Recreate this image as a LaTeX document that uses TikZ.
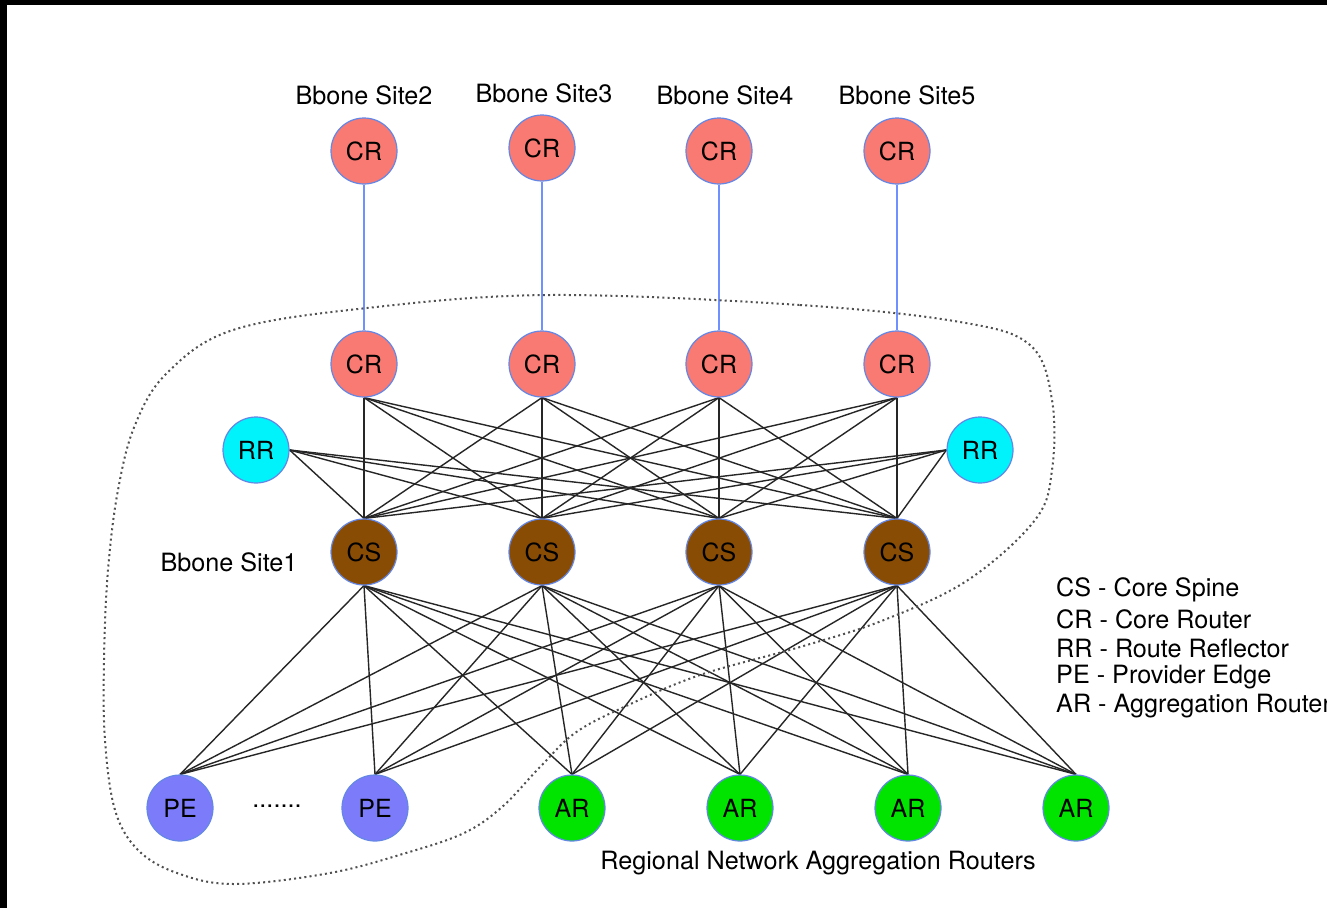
\documentclass[tikz,border=0pt]{standalone}
\usepackage{fontspec}
\setmainfont{TeX Gyre Heros}
\usetikzlibrary{backgrounds}
\definecolor{crcol}{RGB}{248,122,114}
\definecolor{rrcol}{RGB}{0,242,250}
\definecolor{cscol}{RGB}{137,76,4}
\definecolor{pecol}{RGB}{124,124,250}
\definecolor{arcol}{RGB}{0,228,0}
\definecolor{rim}{RGB}{100,135,230}
\definecolor{linkblue}{RGB}{110,145,255}
\definecolor{dotcol}{RGB}{80,80,80}
\tikzset{
  dev/.style={circle, draw=rim, line width=1.2pt, minimum size=66pt, inner sep=0pt,
    font=\fontsize{25}{28}\selectfont, text=black},
  crnode/.style={dev, fill=crcol},
  rrnode/.style={dev, fill=rrcol},
  csnode/.style={dev, fill=cscol},
  penode/.style={dev, fill=pecol},
  arnode/.style={dev, fill=arcol},
  mesh/.style={draw=black!85, line width=1.4pt},
  uplink/.style={draw=linkblue, line width=1.8pt},
  lbl/.style={font=\fontsize{25.2}{29}\selectfont, inner sep=0pt},
  boundary/.style={draw=dotcol, line width=2pt, dash pattern=on 2pt off 3.2pt}
}
\begin{document}
\begin{tikzpicture}[x=1pt,y=-1pt]
\useasboundingbox (0,0) rectangle (1327,908);
\begin{pgfonlayer}{background}
  \fill[black] (0,0) rectangle (1327,908);
  \fill[white] (7,5) rectangle (1327,908);
\end{pgfonlayer}

% top core routers
\node[crnode] (t1) at (364,151) {CR};
\node[crnode] (t2) at (542,148) {CR};
\node[crnode] (t3) at (719,151) {CR};
\node[crnode] (t4) at (897,151) {CR};
% site labels
\node[lbl] (l2) at (364,95) {Bbone Site2};
\node[lbl] (l3) at (544,93) {Bbone Site3};
\node[lbl] (l4) at (725,95) {Bbone Site4};
\node[lbl] (l5) at (907,95) {Bbone Site5};
% site1 core routers
\node[crnode] (c1) at (364,364) {CR};
\node[crnode] (c2) at (542,364) {CR};
\node[crnode] (c3) at (719,364) {CR};
\node[crnode] (c4) at (897,364) {CR};
% route reflectors
\node[rrnode] (rl) at (256,450) {RR};
\node[rrnode] (rr) at (980,450) {RR};
% core spines
\node[csnode] (s1) at (364,552) {CS};
\node[csnode] (s2) at (542,552) {CS};
\node[csnode] (s3) at (719,552) {CS};
\node[csnode] (s4) at (897,552) {CS};
\node[lbl] (l1) at (229,562) {Bbone Site1};
% edge routers
\node[penode] (p1) at (180,808) {PE};
\node[penode] (p2) at (375,808) {PE};
\node[arnode] (a1) at (572,808) {AR};
\node[arnode] (a2) at (740,808) {AR};
\node[arnode] (a3) at (908,808) {AR};
\node[arnode] (a4) at (1076,808) {AR};
\node[lbl] (dots) at (277,806) {.......};
\node[lbl] (reg) at (818,863) {Regional Network Aggregation Routers};
% legend
\node[lbl, anchor=west] (g1) at (1056,590) {CS - Core Spine};
\node[lbl, anchor=west] (g2) at (1056,619) {CR - Core Router};
\node[lbl, anchor=west] (g3) at (1056,648) {RR - Route Reflector};
\node[lbl, anchor=west] (g4) at (1056,677) {PE - Provider Edge};
\node[lbl, anchor=west] (g5) at (1056,706) {AR - Aggregation Router};

\begin{pgfonlayer}{background}
  \foreach \i in {1,...,4} {
    \draw[uplink] (t\i.south) -- (c\i.north);
    \foreach \j in {1,...,4} {
      \draw[mesh] (c\i.south) -- (s\j.north);
    }
    \draw[mesh] (rl.east) -- (s\i.north);
    \draw[mesh] (rr.west) -- (s\i.north);
    \foreach \b in {p1,p2,a1,a2,a3,a4} {
      \draw[mesh] (s\i.south) -- (\b.north);
    }
  }
  \draw[boundary] plot[smooth cycle, tension=0.6] coordinates {
    (550,295) (800,305) (960,322) (1030,345) (1052,400) (1052,470) (1035,520)
    (968,580) (884,620) (800,647) (700,675) (624,707) (575,733) (540,767)
    (502,807) (464,833) (406,853) (330,873) (234,884) (177,873) (138,850)
    (115,810) (105,740) (104,660) (108,570) (118,490) (135,425) (167,373)
    (233,330) (367,308)};
\end{pgfonlayer}
\end{tikzpicture}
\end{document}
